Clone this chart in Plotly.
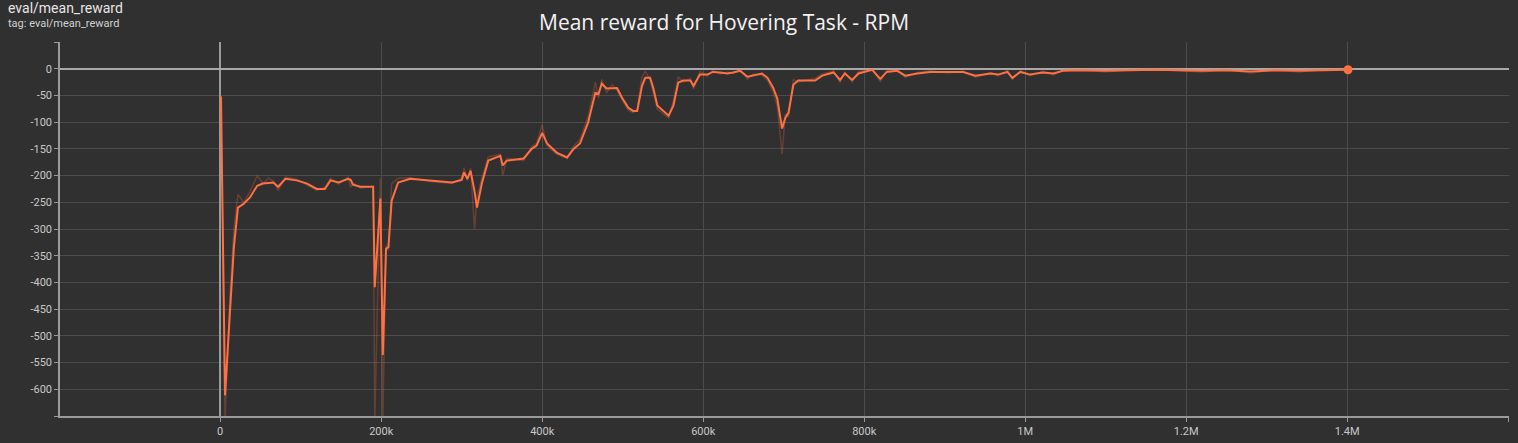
import plotly.graph_objects as go

# steps (thousands) and rewards
steps_k = [1, 6, 12, 17, 22, 29, 37, 46, 53, 60, 66, 72, 81, 95, 108, 120, 130, 137, 147, 159,
           162, 165, 174, 190, 192, 199, 202, 206, 209, 213, 221, 236, 261, 288, 300, 303, 307,
           311, 316, 319, 325, 333, 348, 351, 356, 377, 387, 393, 400, 406, 418, 431, 439, 447,
           457, 466, 470, 474, 480, 487, 493, 499, 507, 513, 518, 524, 528, 534, 538, 543, 550,
           557, 563, 569, 575, 584, 588, 596, 605, 612, 621, 630, 637, 646, 655, 662, 673, 680,
           687, 692, 698, 702, 706, 712, 718, 739, 748, 762, 770, 776, 785, 793, 810, 820, 828,
           841, 851, 866, 882, 903, 923, 938, 957, 966, 978, 984, 994, 1006, 1022, 1035, 1047,
           1070, 1100, 1130, 1160, 1190, 1220, 1250, 1280, 1310, 1340, 1370, 1401]

smoothed = [-52, -611, -458, -334, -260, -253, -241, -219, -215, -214, -213, -221, -206, -209,
            -215, -225, -225, -209, -213, -206, -208, -217, -221, -221, -409, -243, -536, -337,
            -334, -247, -213, -206, -209, -213, -208, -194, -206, -191, -230, -260, -215, -172,
            -163, -181, -172, -168, -150, -144, -120, -140, -157, -166, -150, -140, -101, -45,
            -47, -28, -37, -36, -36, -54, -73, -79, -79, -32, -17, -17, -36, -69, -79, -88, -69,
            -26, -22, -22, -32, -11, -11, -6, -7, -9, -7, -4, -15, -13, -9, -17, -36, -56, -112,
            -92, -82, -30, -22, -22, -13, -7, -21, -9, -21, -9, -2, -19, -6, -4, -13, -9, -6, -6,
            -6, -13, -9, -11, -6, -17, -6, -11, -7, -9, -4, -3, -4, -3, -2, -3, -4, -3, -5, -3,
            -4, -3, -2]

raw = [-50, -660, -425, -300, -235, -250, -230, -200, -215, -205, -210, -228, -203, -207,
       -218, -228, -222, -205, -216, -203, -222, -214, -223, -220, -660, -205, -660, -330,
       -340, -215, -205, -204, -211, -215, -205, -185, -210, -186, -300, -240, -205, -165,
       -160, -200, -168, -172, -145, -140, -105, -145, -160, -168, -145, -132, -90, -25,
       -55, -20, -45, -30, -40, -58, -78, -82, -76, -15, -5, -20, -45, -75, -84, -92, -60,
       -15, -25, -18, -38, -5, -14, -3, -10, -6, -9, -2, -20, -10, -12, -22, -45, -70, -160,
       -85, -90, -20, -25, -18, -10, -4, -26, -6, -25, -5, -1, -24, -4, -2, -16, -7, -4, -8,
       -5, -16, -7, -13, -4, -20, -4, -13, -5, -11, -3, -2, -6, -2, -1, -4, -6, -2, -8, -2,
       -6, -2, -2]

x_tickvals = [0, 200000, 400000, 600000, 800000, 1000000, 1200000, 1400000, 1600000]
x_ticktext = ["0", "200k", "400k", "600k", "800k", "1M", "1.2M", "1.4M", ""]
y_tickvals = [50, 0, -50, -100, -150, -200, -250, -300, -350, -400, -450, -500, -550, -600, -650]
y_ticktext = ["", "0", "-50", "-100", "-150", "-200", "-250", "-300", "-350", "-400", "-450",
              "-500", "-550", "-600", ""]

steps = [s * 1000 for s in steps_k]
color = "#ff7043"

W, H = 1518, 443
ML, MR, MT, MB = 60, 9, 42, 27
pw = W - ML - MR
ph = H - MT - MB


def px_x(v):
    return (v - ML) / pw


def px_y(v):
    return (H - v - MB) / ph


fig = go.Figure()
fig.add_trace(go.Scatter(x=steps, y=raw, mode="lines",
                         line=dict(color=color, width=1.5), opacity=0.25,
                         hoverinfo="skip", showlegend=False))
fig.add_trace(go.Scatter(x=steps, y=smoothed, mode="lines",
                         line=dict(color=color, width=2), showlegend=False))
fig.add_trace(go.Scatter(x=[steps[-1]], y=[smoothed[-1]], mode="markers",
                         marker=dict(color=color, size=9), showlegend=False))

bg = "#303030"
fig.update_layout(
    width=W, height=H,
    paper_bgcolor=bg, plot_bgcolor=bg,
    margin=dict(l=ML, r=MR, t=MT, b=MB),
    font=dict(family="Roboto", color="#c8c8c8", size=11),
    annotations=[
        dict(text="Mean reward for Hovering Task - RPM", x=px_x(724), y=px_y(22),
             xref="paper", yref="paper", showarrow=False, xanchor="center", yanchor="middle",
             font=dict(family="Open Sans", size=21, color="#f2f2f2")),
        dict(text="eval/mean_reward", x=px_x(8), y=px_y(8), xref="paper", yref="paper",
             showarrow=False, xanchor="left", yanchor="middle", xshift=-2,
             font=dict(family="Roboto", size=14, color="#e6e6e6")),
        dict(text="tag: eval/mean_reward", x=px_x(8), y=px_y(23), xref="paper", yref="paper",
             showarrow=False, xanchor="left", yanchor="middle", xshift=-2,
             font=dict(family="Roboto", size=11, color="#d0d0d0")),
    ],
)

fig.update_xaxes(range=[-199000, 1601000], tickvals=x_tickvals, ticktext=x_ticktext,
                 automargin=False,
                 showgrid=True, gridcolor="#4c4c4c", gridwidth=1,
                 zeroline=True, zerolinecolor="#9a9a9a", zerolinewidth=1.5,
                 showline=True, linecolor="#9a9a9a", linewidth=2,
                 ticks="outside", ticklen=4, tickcolor="#9a9a9a",
                 tickfont=dict(size=11, color="#c8c8c8"))
fig.update_yaxes(range=[-650, 50], tickvals=y_tickvals, ticktext=y_ticktext,
                 automargin=False,
                 showgrid=True, gridcolor="#4c4c4c", gridwidth=1,
                 zeroline=True, zerolinecolor="#a8a8a8", zerolinewidth=2,
                 showline=True, linecolor="#9a9a9a", linewidth=1.5,
                 ticks="outside", ticklen=4, tickcolor="#9a9a9a",
                 tickfont=dict(size=11, color="#c8c8c8"))

fig.write_html("out.html", config={"displayModeBar": False},
               post_script="document.body.style.margin='0';document.body.style.overflow='hidden';")
